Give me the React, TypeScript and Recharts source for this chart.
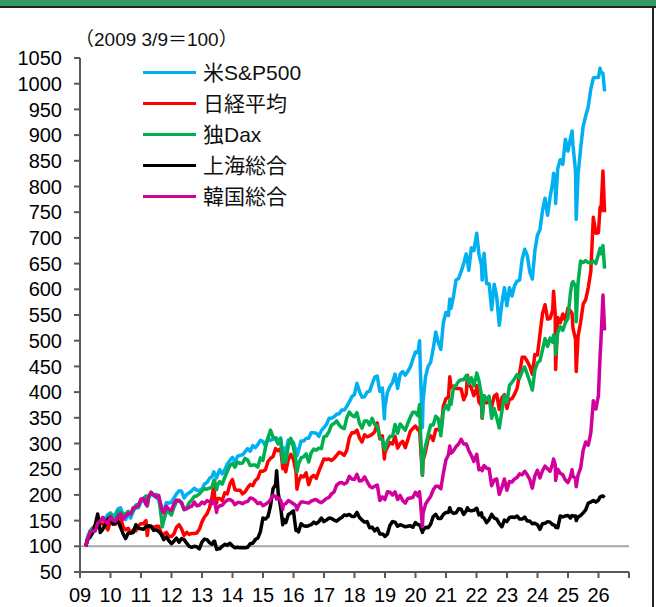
import { LineChart, Line, XAxis, YAxis, ReferenceLine } from "recharts";

// dates: "YYYY-MM" = month end, "YYYY-MM-DD" = that day
const dates = [
  "2009-03-09", "2009-03", "2009-04", "2009-05", "2009-06", "2009-07", "2009-08", "2009-09", "2009-10", "2009-11", "2009-12",
  "2010-01", "2010-02", "2010-03", "2010-04", "2010-05", "2010-06", "2010-07", "2010-08", "2010-09", "2010-10", "2010-11", "2010-12",
  "2011-01", "2011-02", "2011-03-15", "2011-03", "2011-04", "2011-05", "2011-06", "2011-07", "2011-08", "2011-09-12", "2011-09", "2011-10", "2011-11", "2011-12",
  "2012-01", "2012-02", "2012-03", "2012-04", "2012-05", "2012-06", "2012-07", "2012-08", "2012-09", "2012-10", "2012-11", "2012-12",
  "2013-01", "2013-02", "2013-03", "2013-04", "2013-05-22", "2013-05", "2013-06-24", "2013-06", "2013-07", "2013-08", "2013-09", "2013-10", "2013-11", "2013-12",
  "2014-01", "2014-02", "2014-03", "2014-04", "2014-05", "2014-06", "2014-07", "2014-08", "2014-09", "2014-10", "2014-11", "2014-12",
  "2015-01", "2015-02", "2015-03", "2015-04", "2015-05", "2015-06-12", "2015-06", "2015-07", "2015-08-25", "2015-08", "2015-09", "2015-10", "2015-11", "2015-12",
  "2016-01", "2016-02-12", "2016-02", "2016-03", "2016-04", "2016-05", "2016-06", "2016-07", "2016-08", "2016-09", "2016-10", "2016-11", "2016-12",
  "2017-01", "2017-02", "2017-03", "2017-04", "2017-05", "2017-06", "2017-07", "2017-08", "2017-09", "2017-10", "2017-11", "2017-12",
  "2018-01", "2018-02", "2018-03", "2018-04", "2018-05", "2018-06", "2018-07", "2018-08", "2018-09", "2018-10", "2018-11", "2018-12-24", "2018-12",
  "2019-01", "2019-02", "2019-03", "2019-04", "2019-05", "2019-06", "2019-07", "2019-08", "2019-09", "2019-10", "2019-11", "2019-12",
  "2020-01", "2020-02-19", "2020-02", "2020-03-23", "2020-03", "2020-04", "2020-05", "2020-06", "2020-07", "2020-08", "2020-09", "2020-10", "2020-11", "2020-12",
  "2021-01", "2021-02-16", "2021-02", "2021-03", "2021-04", "2021-05", "2021-06", "2021-07", "2021-08", "2021-09-14", "2021-09", "2021-10", "2021-11", "2021-12",
  "2022-01-04", "2022-01", "2022-02", "2022-03-08", "2022-03", "2022-04", "2022-05", "2022-06", "2022-07", "2022-08", "2022-09", "2022-10", "2022-11", "2022-12",
  "2023-01", "2023-02", "2023-03", "2023-04", "2023-05", "2023-06", "2023-07", "2023-08", "2023-09", "2023-10", "2023-11", "2023-12",
  "2024-01", "2024-02", "2024-03", "2024-04", "2024-05", "2024-06", "2024-07-11", "2024-07", "2024-08-05", "2024-08", "2024-09", "2024-10", "2024-11", "2024-12",
  "2025-01", "2025-02-19", "2025-02", "2025-03", "2025-04-08", "2025-04", "2025-05", "2025-06", "2025-07", "2025-08", "2025-09", "2025-10", "2025-11", "2025-12",
  "2026-01-20", "2026-01", "2026-02-24", "2026-03-13",
];

const sp500 = [
  100, 118, 129, 136, 136, 146, 151, 156, 153, 162, 165,
  159, 163, 173, 175, 161, 152, 163, 155, 169, 175, 175, 186,
  190, 196, 189, 196, 202, 199, 195, 191, 180, 172, 167, 185, 184, 186,
  194, 202, 208, 207, 194, 201, 204, 208, 213, 209, 209, 211,
  221, 224, 232, 236, 245, 241, 233, 237, 249, 241, 249, 260, 267, 273,
  264, 275, 277, 278, 284, 290, 285, 296, 292, 298, 306, 304,
  295, 311, 306, 308, 311, 310, 305, 311, 276, 292, 284, 307, 307, 302,
  287, 276, 286, 305, 305, 310, 310, 321, 321, 320, 314, 325, 331,
  337, 349, 349, 352, 357, 358, 365, 365, 372, 381, 391, 395,
  417, 401, 390, 391, 400, 402, 416, 429, 431, 401, 408, 348, 371,
  400, 411, 419, 435, 407, 435, 440, 433, 440, 449, 464, 478,
  477, 500, 437, 331, 382, 430, 450, 458, 484, 517, 497, 483, 535, 555,
  549, 581, 563, 587, 618, 621, 635, 650, 669, 657, 637, 681, 675, 705,
  709, 668, 647, 618, 670, 611, 611, 560, 610, 585, 530, 572, 603, 568,
  603, 587, 607, 616, 618, 658, 678, 666, 634, 620, 675, 705,
  716, 753, 777, 744, 780, 807, 826, 816, 767, 835, 852, 843, 892, 869,
  893, 908, 880, 830, 736, 823, 874, 917, 937, 955, 989, 1011, 1012, 1012,
  1030, 1022, 1020, 985,
];

const nikkei = [
  100, 114, 125, 134, 141, 146, 148, 143, 142, 132, 149,
  144, 143, 157, 156, 138, 132, 135, 125, 132, 130, 140, 144,
  144, 150, 121, 138, 139, 137, 139, 139, 126, 120, 123, 127, 119, 119,
  124, 137, 142, 134, 121, 127, 123, 125, 125, 126, 133, 147,
  157, 163, 175, 196, 221, 194, 184, 193, 193, 189, 204, 202, 221, 230,
  210, 209, 209, 202, 206, 214, 220, 218, 228, 232, 246, 246,
  249, 265, 271, 275, 290, 288, 286, 290, 251, 267, 245, 269, 279, 269,
  247, 211, 226, 237, 235, 243, 220, 234, 238, 232, 246, 258, 270,
  269, 270, 267, 271, 277, 283, 281, 277, 287, 311, 321, 321,
  326, 311, 303, 317, 313, 315, 318, 323, 340, 309, 315, 270, 282,
  293, 302, 299, 314, 291, 300, 304, 292, 307, 324, 329, 334,
  327, 330, 298, 238, 267, 285, 309, 315, 306, 327, 327, 324, 373, 387,
  390, 430, 409, 412, 407, 407, 406, 385, 396, 433, 416, 408, 393, 406,
  413, 381, 374, 349, 393, 379, 385, 372, 392, 396, 366, 389, 395, 368,
  386, 387, 396, 407, 436, 468, 468, 460, 450, 435, 473, 472,
  512, 553, 570, 542, 543, 559, 596, 552, 444, 545, 535, 552, 539, 563,
  558, 553, 524, 503, 440, 509, 536, 571, 580, 603, 634, 740, 709, 710,
  760, 752, 830, 750,
];

const dax = [
  100, 111, 130, 135, 131, 145, 149, 155, 148, 153, 162,
  153, 153, 168, 167, 163, 163, 168, 162, 170, 180, 182, 189,
  193, 198, 178, 192, 205, 199, 201, 195, 158, 138, 150, 168, 166, 161,
  176, 187, 190, 184, 171, 175, 185, 190, 197, 198, 202, 208,
  212, 211, 213, 216, 229, 228, 210, 217, 226, 221, 234, 246, 257, 261,
  254, 264, 261, 262, 271, 268, 257, 258, 258, 254, 272, 267,
  292, 311, 326, 312, 311, 305, 299, 308, 263, 280, 264, 296, 310, 293,
  267, 245, 259, 272, 274, 280, 264, 282, 289, 287, 291, 290, 313,
  315, 323, 336, 339, 344, 336, 331, 329, 350, 361, 355, 352,
  360, 339, 330, 344, 344, 336, 349, 337, 334, 312, 307, 290, 288,
  305, 314, 314, 337, 320, 338, 332, 326, 339, 351, 361, 361,
  354, 376, 324, 238, 271, 296, 316, 336, 336, 353, 348, 315, 363, 374,
  366, 384, 376, 409, 413, 421, 424, 424, 432, 429, 416, 428, 412, 433,
  437, 422, 394, 350, 393, 385, 392, 349, 368, 350, 330, 362, 393, 380,
  413, 419, 426, 434, 427, 440, 449, 435, 420, 404, 442, 457,
  461, 482, 504, 489, 505, 497, 511, 505, 473, 516, 527, 520, 535, 543,
  593, 612, 615, 605, 537, 614, 655, 652, 656, 652, 651, 655, 650, 668,
  680, 669, 685, 640,
];

const shanghai = [
  100, 113, 118, 126, 141, 163, 127, 133, 143, 153, 157,
  143, 146, 149, 137, 124, 115, 126, 126, 127, 142, 135, 134,
  133, 139, 138, 140, 139, 131, 132, 129, 123, 119, 113, 118, 111, 105,
  110, 116, 108, 115, 113, 106, 100, 98, 100, 99, 95, 108,
  114, 113, 107, 104, 110, 110, 94, 95, 95, 100, 104, 102, 106, 101,
  97, 98, 97, 97, 97, 98, 105, 106, 113, 116, 128, 155,
  153, 158, 179, 212, 220, 247, 204, 175, 142, 153, 146, 162, 165, 169,
  131, 132, 128, 144, 140, 139, 140, 142, 147, 144, 148, 155, 148,
  151, 155, 154, 151, 149, 153, 156, 161, 160, 162, 158, 158,
  166, 156, 151, 147, 148, 136, 137, 130, 135, 124, 124, 121, 119,
  124, 141, 148, 147, 139, 142, 140, 138, 139, 140, 137, 146,
  142, 142, 138, 127, 131, 137, 136, 143, 158, 162, 154, 154, 162, 166,
  166, 175, 168, 164, 165, 173, 172, 162, 169, 175, 170, 169, 170, 174,
  174, 161, 165, 157, 155, 146, 152, 162, 155, 153, 144, 138, 151, 148,
  156, 157, 156, 159, 153, 153, 157, 149, 149, 144, 145, 142,
  133, 144, 145, 148, 147, 142, 142, 140, 137, 136, 159, 157, 159, 160,
  155, 160, 159, 159, 150, 157, 160, 165, 171, 184, 186, 189, 186, 190,
  196, 197, 198, 195,
];

const kospi = [
  100, 113, 128, 130, 130, 145, 149, 156, 148, 145, 157,
  150, 149, 158, 163, 153, 159, 164, 163, 175, 176, 178, 192,
  193, 181, 180, 197, 205, 200, 196, 199, 176, 169, 165, 178, 172, 170,
  183, 190, 188, 185, 172, 173, 176, 178, 186, 179, 180, 186,
  183, 189, 187, 183, 188, 187, 166, 174, 179, 180, 186, 190, 191, 188,
  181, 185, 185, 183, 186, 187, 194, 193, 189, 183, 185, 179,
  182, 185, 191, 199, 197, 192, 194, 190, 172, 181, 183, 189, 186, 183,
  179, 171, 179, 186, 186, 185, 184, 188, 190, 191, 187, 185, 189,
  193, 195, 202, 206, 219, 223, 224, 221, 224, 236, 231, 230,
  240, 227, 228, 235, 226, 217, 214, 217, 219, 189, 196, 192, 191,
  206, 205, 200, 206, 191, 199, 189, 184, 193, 194, 195, 205,
  198, 206, 186, 138, 164, 182, 190, 197, 210, 217, 217, 212, 242, 268,
  278, 295, 281, 286, 294, 299, 308, 299, 299, 294, 286, 277, 265, 278,
  279, 249, 252, 247, 257, 252, 251, 218, 229, 231, 201, 214, 231, 209,
  226, 225, 231, 234, 241, 239, 246, 239, 230, 213, 237, 248,
  233, 247, 256, 251, 246, 261, 270, 259, 228, 250, 242, 239, 229, 224,
  235, 249, 236, 232, 216, 239, 252, 287, 303, 297, 320, 383, 367, 393,
  470, 500, 589, 520,
];

const yearTicks = [2009, 2010, 2011, 2012, 2013, 2014, 2015, 2016, 2017, 2018, 2019, 2020, 2021, 2022, 2023, 2024, 2025, 2026, 2027];
const valueTicks = [50, 100, 150, 200, 250, 300, 350, 400, 450, 500, 550, 600, 650, 700, 750, 800, 850, 900, 950, 1000, 1050];

const SERIES = [
  { key: "sp", name: "米S&P500", color: "#00B0F0", values: sp500 },
  { key: "nk", name: "日経平均", color: "#FF0000", values: nikkei },
  { key: "dax", name: "独Dax", color: "#00B050", values: dax },
  { key: "sh", name: "上海総合", color: "#000000", values: shanghai },
  { key: "ks", name: "韓国総合", color: "#D1009B", values: kospi },
];

function toYear(s: string) {
  const [y, m, d] = s.split("-").map(Number);
  if (d === undefined) return y + m / 12 - 0.003;
  return y + (m - 1) / 12 + (d - 1) / 365;
}

const rows = dates.map((s, i) => {
  const row: Record<string, number> = { t: toYear(s) };
  SERIES.forEach((se) => (row[se.key] = se.values[i]));
  return row;
});

const FONT = "'Liberation Sans', Arial, 'Noto Sans CJK JP', sans-serif";
const AXIS = "#595959";

export default function App() {
  return (
    <div style={{ position: "relative", width: 656, height: 607, background: "#fff", fontFamily: FONT, overflow: "hidden" }}>
      <style>{`body{margin:0}`}</style>
      <div style={{ position: "absolute", left: 0, top: 0, width: 656, height: 7, background: "#339966" }} />
      <div style={{ position: "absolute", left: 0, top: 6, width: 656, height: 2, background: "#222" }} />
      <div style={{ position: "absolute", left: 652, top: 6, width: 2, height: 601, background: "#222" }} />

      <LineChart width={656} height={607} data={rows} margin={{ top: 58, right: 27, left: 0, bottom: 5 }}>
        <XAxis
          dataKey="t"
          type="number"
          domain={[2009, 2027]}
          ticks={yearTicks}
          interval={0}
          height={30}
          tickSize={6}
          tickMargin={10}
          tickFormatter={(v: number) => (v === 2027 ? "" : String(v % 100).padStart(2, "0"))}
          axisLine={{ stroke: AXIS, strokeWidth: 2 }}
          tickLine={{ stroke: AXIS, strokeWidth: 2 }}
          tick={{ fill: "#000", fontSize: 20, fontFamily: FONT }}
        />
        <YAxis
          type="number"
          domain={[50, 1050]}
          ticks={valueTicks}
          interval={0}
          width={80}
          tickSize={6}
          tickMargin={12}
          axisLine={{ stroke: AXIS, strokeWidth: 2 }}
          tickLine={{ stroke: AXIS, strokeWidth: 2 }}
          tick={{ fill: "#000", fontSize: 20, fontFamily: FONT }}
        />
        <ReferenceLine y={100} stroke="#A6A6A6" strokeWidth={2} />
        {SERIES.map((s) => (
          <Line
            key={s.key}
            dataKey={s.key}
            name={s.name}
            type="linear"
            stroke={s.color}
            strokeWidth={3.5}
            strokeLinejoin="round"
            dot={false}
            isAnimationActive={false}
          />
        ))}
      </LineChart>

      <div style={{ position: "absolute", left: 75, top: 24, fontSize: 19, color: "#111", whiteSpace: "nowrap" }}>
        （2009 3/9＝100）
      </div>

      {/* legend */}
      <div style={{ position: "absolute", left: 143, top: 57 }}>
        {SERIES.map((s) => (
          <div key={s.key} style={{ display: "flex", alignItems: "center", height: 31 }}>
            <span style={{ width: 53, height: 3, background: s.color, marginRight: 7 }} />
            <span style={{ fontSize: 21, color: "#111", lineHeight: "24px" }}>{s.name}</span>
          </div>
        ))}
      </div>
    </div>
  );
}
